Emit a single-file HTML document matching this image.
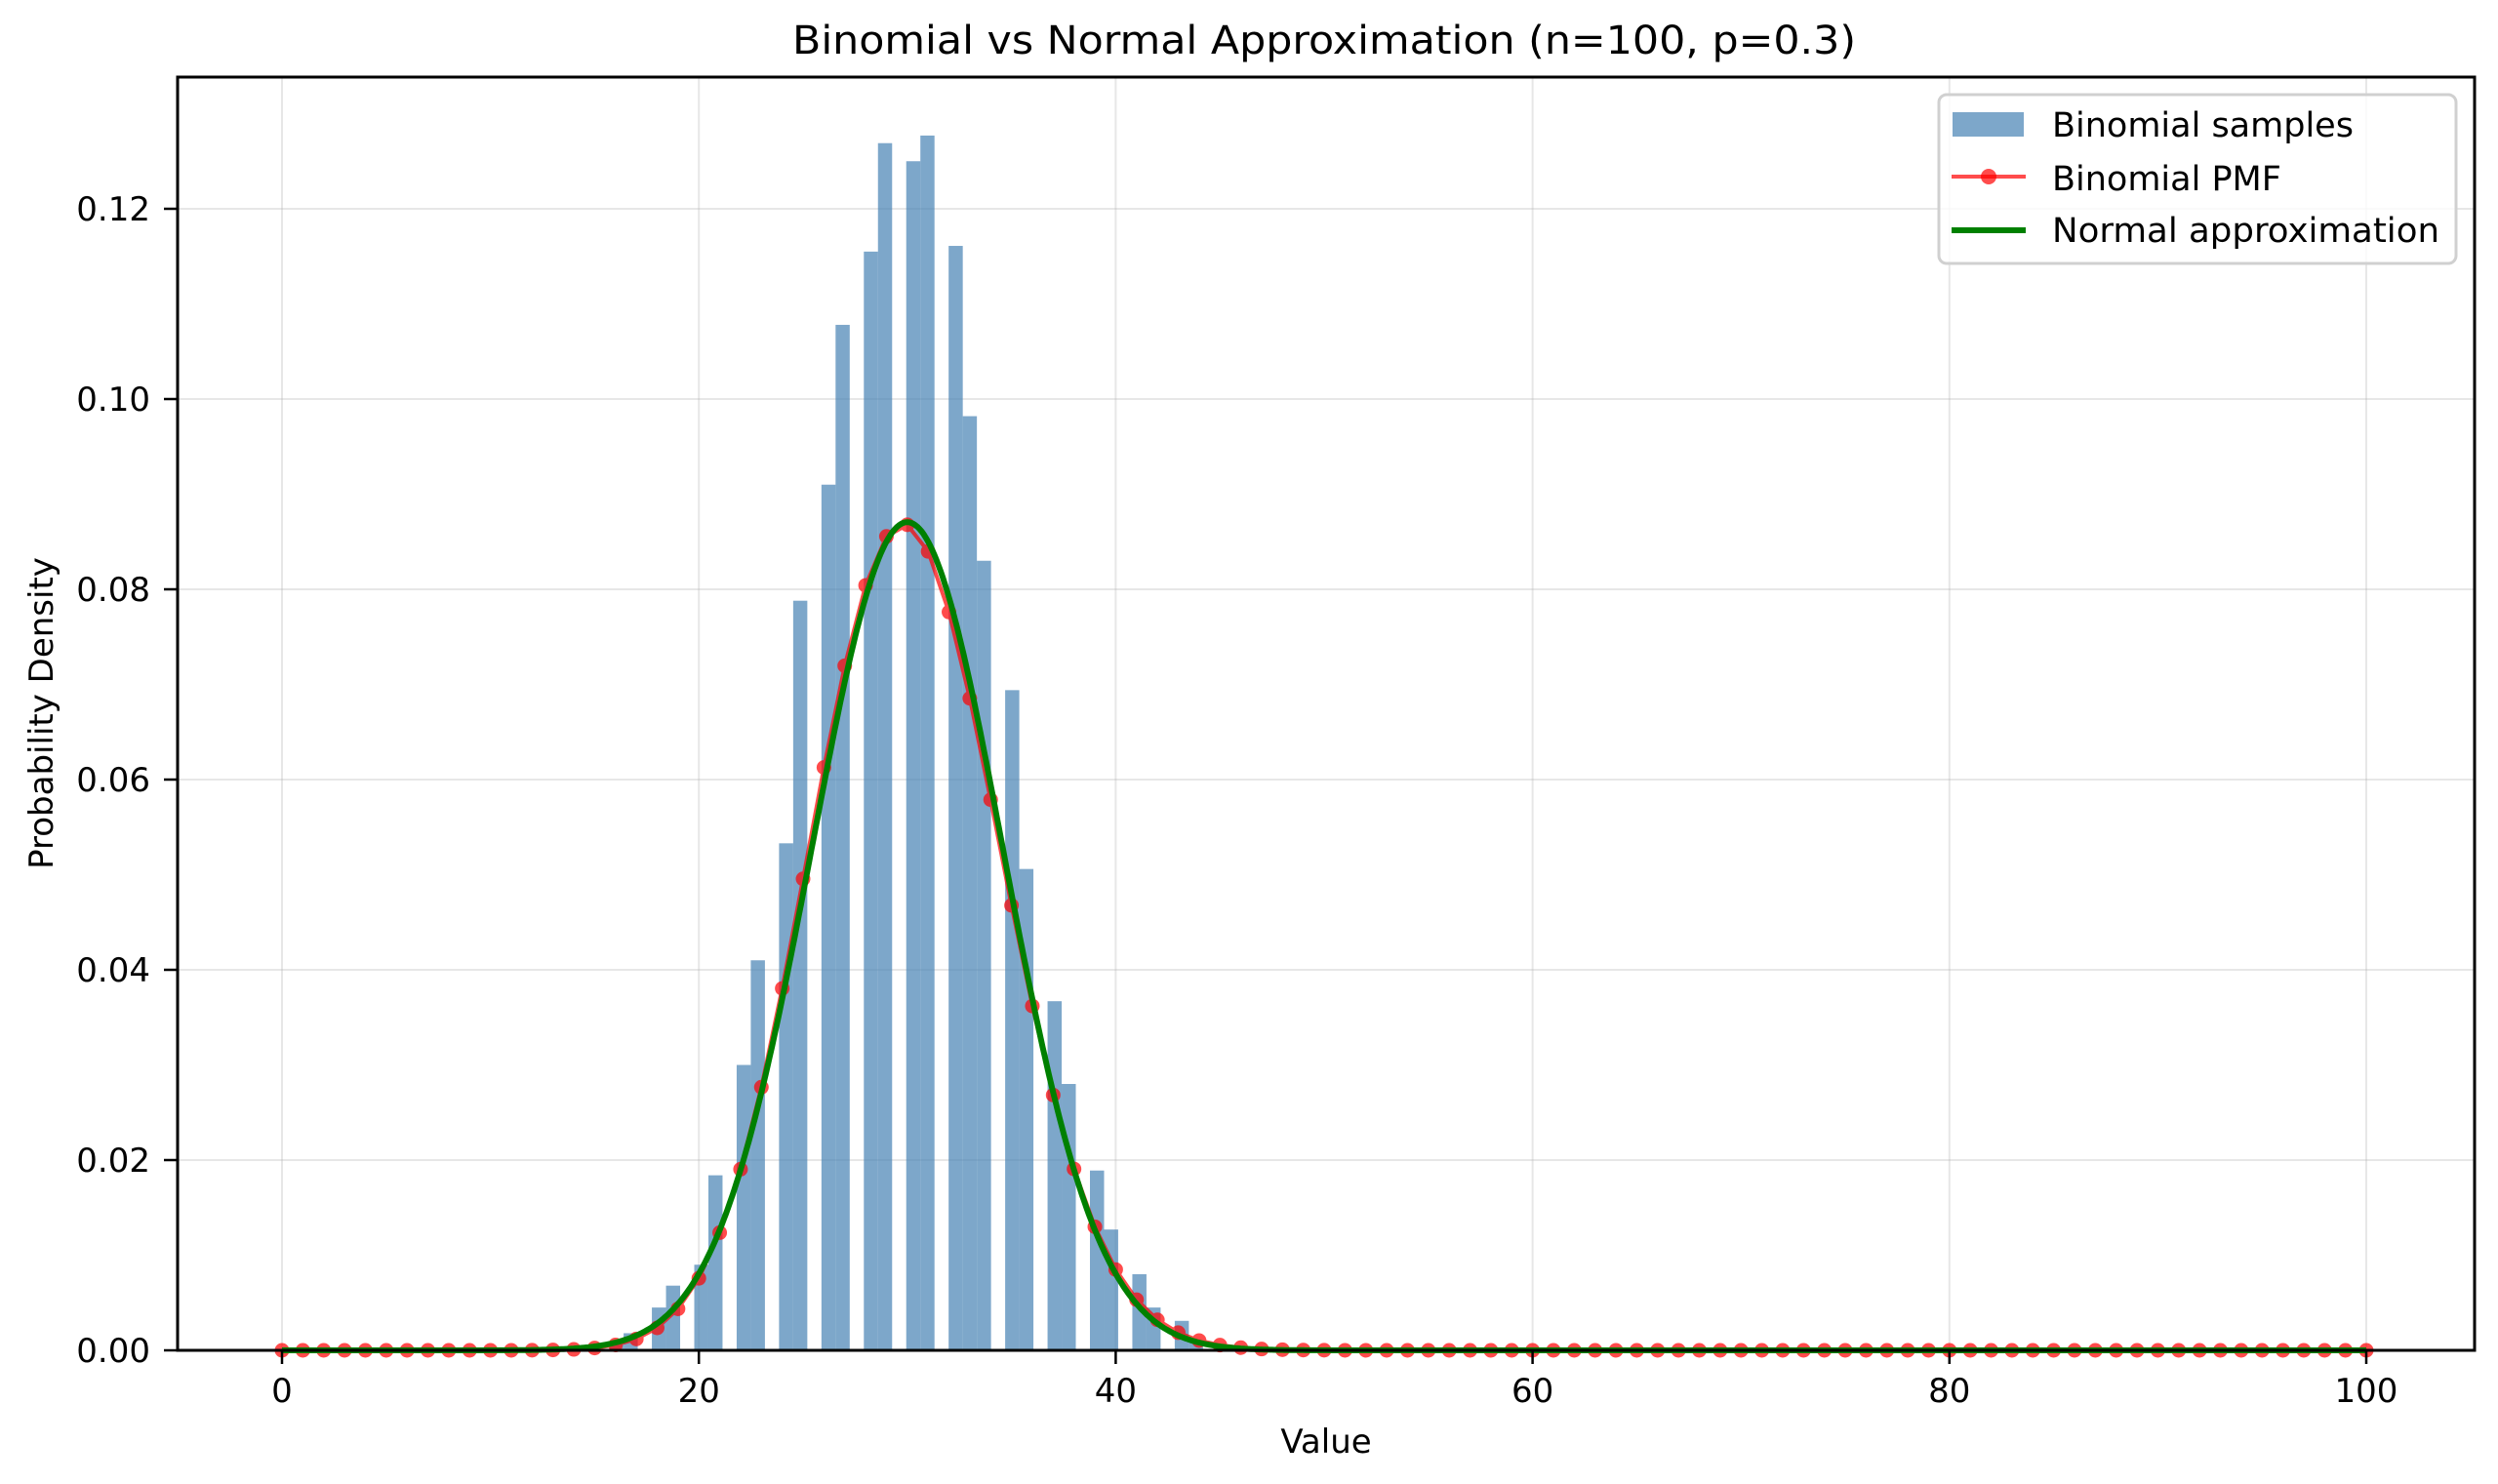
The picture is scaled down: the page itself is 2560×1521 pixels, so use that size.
<!DOCTYPE html>
<html><head><meta charset="utf-8">
<style>html,body{margin:0;padding:0;background:#fff}svg{display:block}text{font-family:"DejaVu Sans","Liberation Sans",sans-serif;fill:#000}</style>
</head><body>
<svg id="s" xmlns="http://www.w3.org/2000/svg" width="2560" height="1521" viewBox="0 0 2560 1521">
<rect width="2560" height="1521" fill="#fff"/>
<g id="grid"></g>
<g id="bars"></g>
<g id="lines"></g>
<rect x="182" y="79" width="2354" height="1305" fill="none" stroke="#000" stroke-width="3"/>
<g id="ticks"></g>
<text x="1357" y="55" font-size="40" text-anchor="middle" textLength="1090" lengthAdjust="spacingAndGlyphs">Binomial vs Normal Approximation (n=100, p=0.3)</text>
<text x="1359" y="1489" font-size="34" text-anchor="middle">Value</text>
<text transform="translate(54,731) rotate(-90)" font-size="34" text-anchor="middle">Probability Density</text>
<g>
<rect x="1987" y="97" width="530" height="173" rx="8" fill="#fff" fill-opacity="0.8" stroke="#d0d0d0" stroke-width="3"/>
<rect x="2001" y="115" width="73" height="25" fill="#4682b4" fill-opacity="0.7"/>
<line x1="2000" y1="181" x2="2076" y2="181" stroke="#ff0000" stroke-opacity="0.7" stroke-width="4"/>
<circle cx="2038" cy="181" r="8" fill="#ff0000" fill-opacity="0.7"/>
<line x1="2000" y1="236" x2="2076" y2="236" stroke="#008000" stroke-width="6"/>
<text x="2103" y="140" font-size="35">Binomial samples</text>
<text x="2103" y="195" font-size="35">Binomial PMF</text>
<text x="2103" y="248" font-size="35" textLength="397" lengthAdjust="spacingAndGlyphs">Normal approximation</text>
</g>
</svg>
<script>
(function(){
var NS="http://www.w3.org/2000/svg";
function X(v){return 289+v*21.36;}
function Y(v){return 1384-v*9750;}
function el(g,t,a){var e=document.createElementNS(NS,t);for(var k in a)e.setAttribute(k,a[k]);document.getElementById(g).appendChild(e);return e;}
var i;
for(i=0;i<=100;i+=20){el('grid','line',{x1:X(i),y1:79,x2:X(i),y2:1384,stroke:'#b0b0b0','stroke-opacity':0.3,'stroke-width':2});
 el('ticks','line',{x1:X(i),y1:1384,x2:X(i),y2:1398,stroke:'#000','stroke-width':2.5});
 var t=el('ticks','text',{x:X(i),y:1437,'font-size':34,'text-anchor':'middle'});t.textContent=i;}
for(i=0;i<=6;i++){var v=i*0.02;
 el('grid','line',{x1:182,y1:Y(v),x2:2536,y2:Y(v),stroke:'#b0b0b0','stroke-opacity':0.3,'stroke-width':2});
 el('ticks','line',{x1:168,y1:Y(v),x2:182,y2:Y(v),stroke:'#000','stroke-width':2.5});
 var t2=el('ticks','text',{x:154,y:Y(v)+12,'font-size':34,'text-anchor':'end'});t2.textContent=v.toFixed(2);}
var h={15:0.0003,16:0.0007,17:0.0018,18:0.0045,19:0.0068,20:0.009,21:0.0184,22:0.030,23:0.041,24:0.0533,25:0.0788,26:0.091,27:0.1078,28:0.1155,29:0.1269,30:0.125,31:0.1277,32:0.1161,33:0.0982,34:0.083,35:0.0694,36:0.0506,37:0.0367,38:0.028,39:0.0189,40:0.0127,41:0.0080,42:0.0045,43:0.0031,44:0.0009,45:0.0003};
var w=0.678;
for(var k in h){var kk=+k;var b=Math.min(49,Math.floor((kk-13)/w));var l=13+b*w;
 el('bars','rect',{x:X(l),y:Y(h[k]),width:w*21.36,height:h[k]*9750,fill:'#4682b4','fill-opacity':0.7});}
var lf=[0];for(i=1;i<=100;i++)lf[i]=lf[i-1]+Math.log(i);
var pts=[],n=100,p=0.3;
for(i=0;i<=100;i++){var pm=Math.exp(lf[n]-lf[i]-lf[n-i]+i*Math.log(p)+(n-i)*Math.log(1-p));pts.push([X(i),Y(pm)]);}
var g=el('lines','g',{opacity:0.7});
var pl=document.createElementNS(NS,'polyline');pl.setAttribute('points',pts.map(function(a){return a[0].toFixed(1)+','+a[1].toFixed(1);}).join(' '));
pl.setAttribute('fill','none');pl.setAttribute('stroke','#ff0000');pl.setAttribute('stroke-width',4);g.appendChild(pl);
pts.forEach(function(a){var c=document.createElementNS(NS,'circle');c.setAttribute('cx',a[0]);c.setAttribute('cy',a[1]);c.setAttribute('r',7.5);c.setAttribute('fill','#ff0000');g.appendChild(c);});
var mu=30,sd=Math.sqrt(21),np=[];
for(var xv=0;xv<=100;xv+=0.1){var d=Math.exp(-0.5*Math.pow((xv-mu)/sd,2))/(sd*Math.sqrt(2*Math.PI));np.push(X(xv).toFixed(1)+','+Y(d).toFixed(1));}
el('lines','polyline',{points:np.join(' '),fill:'none',stroke:'#008000','stroke-width':6,'stroke-linejoin':'round'});
})();
</script>
</body></html>
